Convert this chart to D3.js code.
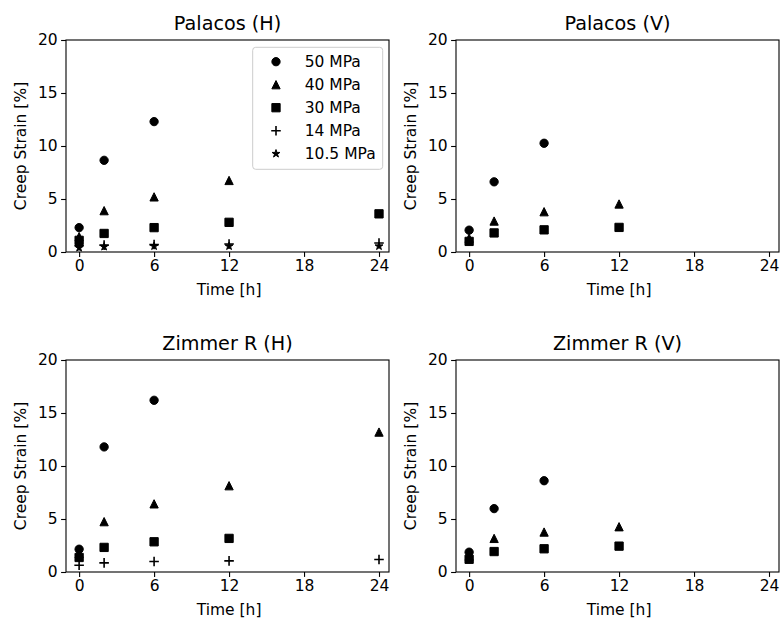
<!DOCTYPE html>
<html>
<head>
<meta charset="utf-8">
<script src="https://cdn.jsdelivr.net/npm/d3@7"></script>
<style>
  html, body { margin: 0; padding: 0; background: #fff; }
  svg { display: block; }
  text { font-family: "DejaVu Sans", sans-serif; fill: #000; }
</style>
</head>
<body>
<svg id="chart" width="781" height="619"></svg>
<script>
// ---- data ----
const panelTitles = ["Palacos (H)", "Palacos (V)", "Zimmer R (H)", "Zimmer R (V)"];
const seriesNames = ["50 MPa", "40 MPa", "30 MPa", "14 MPa", "10.5 MPa"];
const xTicks = [0, 6, 12, 18, 24];
const yTicks = [0, 5, 10, 15, 20];

// Palacos (H)
const palH_time = [0, 2, 6, 12, 24];
const palH_50 = [2.3, 8.65, 12.3];
const palH_40 = [1.45, 3.9, 5.2, 6.75];
const palH_30 = [1.1, 1.75, 2.3, 2.8, 3.6];
const palH_14 = [0.6, 0.65, 0.7, 0.75, 0.85];
const palH_105 = [0.4, 0.5, 0.55, 0.55, 0.55];

// Palacos (V)
const palV_time = [0, 2, 6, 12];
const palV_50 = [2.06, 6.62, 10.26];
const palV_40 = [1.3, 2.92, 3.8, 4.53];
const palV_30 = [1.0, 1.8, 2.09, 2.32];

// Zimmer R (H)
const zimH_time = [0, 2, 6, 12, 24];
const zimH_50 = [2.15, 11.8, 16.2];
const zimH_40 = [1.75, 4.75, 6.43, 8.14, 13.2];
const zimH_30 = [1.37, 2.32, 2.85, 3.17];
const zimH_14 = [0.64, 0.86, 0.99, 1.05, 1.18];

// Zimmer R (V)
const zimV_time = [0, 2, 6, 12];
const zimV_50 = [1.87, 5.98, 8.61];
const zimV_40 = [1.5, 3.17, 3.77, 4.27];
const zimV_30 = [1.2, 1.93, 2.19, 2.44];

const panelData = [
  { time: palH_time, series: [palH_50, palH_40, palH_30, palH_14, palH_105] },
  { time: palV_time, series: [palV_50, palV_40, palV_30, null, null] },
  { time: zimH_time, series: [zimH_50, zimH_40, zimH_30, zimH_14, null] },
  { time: zimV_time, series: [zimV_50, zimV_40, zimV_30, null, null] }
];

// ---- layout ----
const svg = d3.select("#chart");
const axW = 323, axH = 212;
const origins = [[66, 40], [456, 40], [66, 360], [456, 360]];
const xDomain = [-1.05, 24.8];
const yDomain = [0, 20];
const fs = 15.5, fsTitle = 19.2;

// marker shapes (size in px ~ matplotlib markersize 6pt)
const ms = 8.3;
function markerPath(kind) {
  const h = ms / 2;
  if (kind === 0) return d3.symbol(d3.symbolCircle, Math.PI * h * h)();
  if (kind === 1) return `M0,${-h}L${h},${h}L${-h},${h}Z`;
  if (kind === 2) return `M${-h},${-h}H${h}V${h}H${-h}Z`;
  if (kind === 3) { const p = h * 1.15; return `M${-p},0H${p}M0,${-p}V${p}`; }
  // star
  const R = h, r = h * 0.382;
  let p = "";
  for (let i = 0; i < 10; i++) {
    const a = -Math.PI / 2 + i * Math.PI / 5;
    const rr = i % 2 === 0 ? R : r;
    p += (i === 0 ? "M" : "L") + (rr * Math.cos(a)).toFixed(2) + "," + (rr * Math.sin(a)).toFixed(2);
  }
  return p + "Z";
}
function drawMarker(g, kind, x, y) {
  const filled = kind !== 3;
  g.append("path")
    .attr("d", markerPath(kind))
    .attr("transform", `translate(${x},${y})`)
    .attr("fill", filled ? "#000" : "none")
    .attr("stroke", "#000")
    .attr("stroke-width", filled ? 1.0 : 1.6)
    .attr("stroke-linejoin", "miter");
}

panelData.forEach((pd, pi) => {
  const [ox, oy] = origins[pi];
  const g = svg.append("g").attr("transform", `translate(${ox},${oy})`);
  const x = d3.scaleLinear().domain(xDomain).range([0, axW]);
  const y = d3.scaleLinear().domain(yDomain).range([axH, 0]);

  // markers
  const mg = g.append("g");
  pd.series.forEach((vals, si) => {
    if (!vals) return;
    vals.forEach((v, i) => drawMarker(mg, si, x(pd.time[i]), y(v)));
  });

  // axes
  const xa = g.append("g").attr("transform", `translate(0,${axH})`)
    .call(d3.axisBottom(x).tickValues(xTicks).tickSize(4.9).tickPadding(3.5).tickFormat(d3.format("d")));
  const ya = g.append("g")
    .call(d3.axisLeft(y).tickValues(yTicks).tickSize(4.9).tickPadding(3.5).tickFormat(d3.format("d")));
  [xa, ya].forEach(a => {
    a.select(".domain").remove();
    a.selectAll("line").attr("stroke", "#000").attr("stroke-width", 1.1);
    a.selectAll("text").style("font-family", "DejaVu Sans").style("font-size", fs + "px").attr("fill", "#000");
  });
  // frame
  g.append("rect").attr("x", 0).attr("y", 0).attr("width", axW).attr("height", axH)
    .attr("fill", "none").attr("stroke", "#000").attr("stroke-width", 1.1);

  // titles & labels
  g.append("text").attr("x", axW / 2).attr("y", -10).attr("text-anchor", "middle")
    .style("font-size", fsTitle + "px").text(panelTitles[pi]);
  g.append("text").attr("x", x(12)).attr("y", axH + 43).attr("text-anchor", "middle")
    .style("font-size", fs + "px").text("Time [h]");
  g.append("text").attr("transform", `translate(-40,${axH / 2}) rotate(-90)`)
    .attr("text-anchor", "middle").style("font-size", fs + "px").text("Creep Strain [%]");

  // legend on first panel
  if (pi === 0) {
    const lx = 252.7 - ox, ly = 47.3 - oy;
    const lg = g.append("g").attr("transform", `translate(${lx},${ly})`);
    lg.append("rect").attr("x", 0).attr("y", 0).attr("width", 130).attr("height", 122)
      .attr("rx", 3).attr("fill", "#fff").attr("fill-opacity", 0.8)
      .attr("stroke", "#cccccc").attr("stroke-width", 1);
    seriesNames.forEach((name, i) => {
      const cy = 14.4 + i * 23;
      drawMarker(lg, i, 23.3, cy);
      lg.append("text").attr("x", 52).attr("y", cy + 5.5).style("font-size", fs + "px").text(name);
    });
  }
});
</script>
</body>
</html>
